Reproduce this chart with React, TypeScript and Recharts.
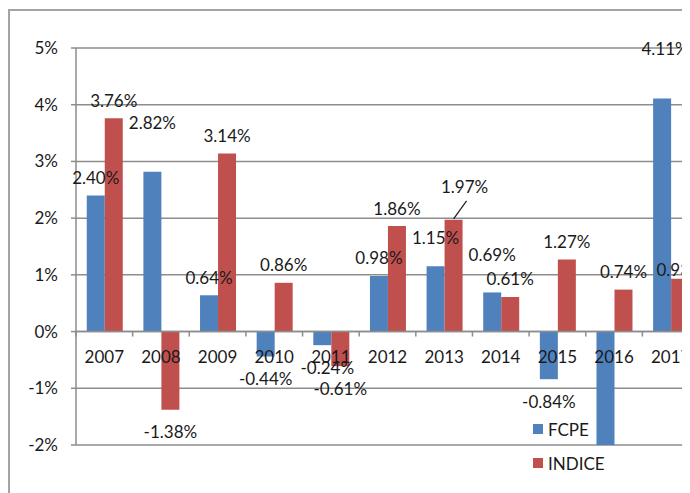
import React from "react";
import { BarChart, Bar, XAxis, YAxis, CartesianGrid, ReferenceLine, Legend, LabelList } from "recharts";

const YEARS = ["2007", "2008", "2009", "2010", "2011", "2012", "2013", "2014", "2015", "2016", "2017"];
const FCPE = [2.4, 2.82, 0.64, -0.44, -0.24, 0.98, 1.15, 0.69, -0.84, -2.1, 4.11];
const INDICE = [3.76, -1.38, 3.14, 0.86, -0.61, 1.86, 1.97, 0.61, 1.27, 0.74, 0.93];
const Y_TICKS = [-2, -1, 0, 1, 2, 3, 4, 5];

// manual nudges of the data labels (dx, dy), like the moved labels in the original sheet
const FCPE_NUDGE: [number, number][] = [
  [0, 0], [0, -31], [0, 0], [0, 0], [5, 0], [0, 0], [0, -11], [0, -20], [0, 0], [0, 0], [3, -32],
];
const INDICE_NUDGE: [number, number][] = [
  [0, 0], [0, 0], [0, 0], [0, 0], [0, 0], [0, 0], [11, -15], [0, 0], [0, 0], [0, 0], [0, 9],
];

const BLUE = "#4f81bd";
const RED = "#c0504d";
const GRID = "#8d8d8d";
const FONT = "Lato, 'Open Sans', sans-serif";
const FS = 17;

const W = 720;
const H = 485;
const MARGIN = { top: 40, right: 29, bottom: 28, left: 0 };
const Y_WIDTH = 68;
const X_HEIGHT = 20;
const PLOT_H = H - MARGIN.top - MARGIN.bottom - X_HEIGHT;
const PLOT_W = W - MARGIN.left - MARGIN.right - Y_WIDTH;
const CAT_W = PLOT_W / YEARS.length;

const data = YEARS.map((year, i) => ({ year, fcpe: FCPE[i], indice: INDICE[i] }));

const fmt = (v: number) => `${v.toFixed(2)}%`;

const CategoryTick = ({ x, y, payload }: any) => {
  // axis sits at the bottom (-2%), labels go under the 0% line
  const zeroY = y - (PLOT_H * 2) / 7;
  const left = x - CAT_W / 2;
  return (
    <g>
      <line x1={left} x2={left} y1={zeroY} y2={zeroY + 5} stroke={GRID} strokeWidth={1.5} />
      <text x={x} y={zeroY + 25} textAnchor="middle" dominantBaseline="central" fill="#1a1a1a" fontSize={FS} fontFamily={FONT}>
        {payload.value}
      </text>
    </g>
  );
};

const makeLabel = (nudges: [number, number][], leaderAt?: number) => (props: any) => {
  const { x, y, width, height, value, index } = props;
  if (value < -2) return null;
  const cx = Number(x) + Number(width) / 2;
  const y0 = Number(y);
  const y1 = Number(y) + Number(height);
  const tip = value >= 0 ? Math.min(y0, y1) : Math.max(y0, y1);
  const [dx, dy] = nudges[index] || [0, 0];
  const lx = cx + dx;
  const ly = (value >= 0 ? tip - 18 : tip + 22) + dy;
  return (
    <g>
      {leaderAt === index && (
        <line x1={cx} y1={tip - 1} x2={lx + 2} y2={ly + 14} stroke="#1a1a1a" strokeWidth={1.2} />
      )}
      <text x={lx} y={ly} textAnchor="middle" dominantBaseline="central" fill="#1a1a1a" fontSize={FS} fontFamily={FONT}>
        {fmt(value)}
      </text>
    </g>
  );
};

const LegendBox = ({ payload }: any) => (
  <div style={{ fontFamily: FONT, fontSize: FS, color: "#1a1a1a" }}>
    {payload.map((p: any) => (
      <div key={p.value} style={{ display: "flex", alignItems: "center", height: 34 }}>
        <span style={{ width: 10, height: 10, background: p.color, marginRight: 5, display: "inline-block" }} />
        {p.value}
      </div>
    ))}
  </div>
);

export default function App() {
  return (
    <div style={{ position: "relative", width: 682, height: H, overflow: "hidden", background: "#fff" }}>
      <div
        style={{
          position: "absolute",
          left: 0,
          top: 1,
          width: 800,
          height: 600,
          borderLeft: "2px solid #a3a3a3",
          borderTop: "2px solid #a3a3a3",
        }}
      />
      <div style={{ position: "absolute", left: 0, top: 0 }}>
        <BarChart width={W} height={H} data={data} margin={MARGIN} barCategoryGap="19%" barGap={0}>
          <CartesianGrid vertical={false} stroke={GRID} strokeWidth={1.5} />
          <XAxis
            dataKey="year"
            height={X_HEIGHT}
            axisLine={false}
            tickLine={false}
            tickSize={0}
            tickMargin={0}
            interval={0}
            tick={<CategoryTick />}
          />
          <YAxis
            width={Y_WIDTH}
            domain={[-2, 5]}
            ticks={Y_TICKS}
            allowDataOverflow
            tickFormatter={(v: number) => `${v}%`}
            axisLine={{ stroke: GRID, strokeWidth: 1.5 }}
            tickLine={{ stroke: GRID, strokeWidth: 1.5 }}
            tickSize={5}
            tickMargin={13}
            tick={{ fill: "#1a1a1a", fontSize: FS, fontFamily: FONT }}
          />
          <ReferenceLine y={0} stroke={GRID} strokeWidth={1.5} />
          <Legend
            layout="vertical"
            align="center"
            verticalAlign="middle"
            content={<LegendBox />}
            wrapperStyle={{ left: 525, top: 404, width: 100 }}
          />
          <Bar dataKey="fcpe" name="FCPE" fill={BLUE} isAnimationActive={false}>
            <LabelList dataKey="fcpe" content={makeLabel(FCPE_NUDGE)} />
          </Bar>
          <Bar dataKey="indice" name="INDICE" fill={RED} isAnimationActive={false}>
            <LabelList dataKey="indice" content={makeLabel(INDICE_NUDGE, 6)} />
          </Bar>
        </BarChart>
      </div>
    </div>
  );
}
